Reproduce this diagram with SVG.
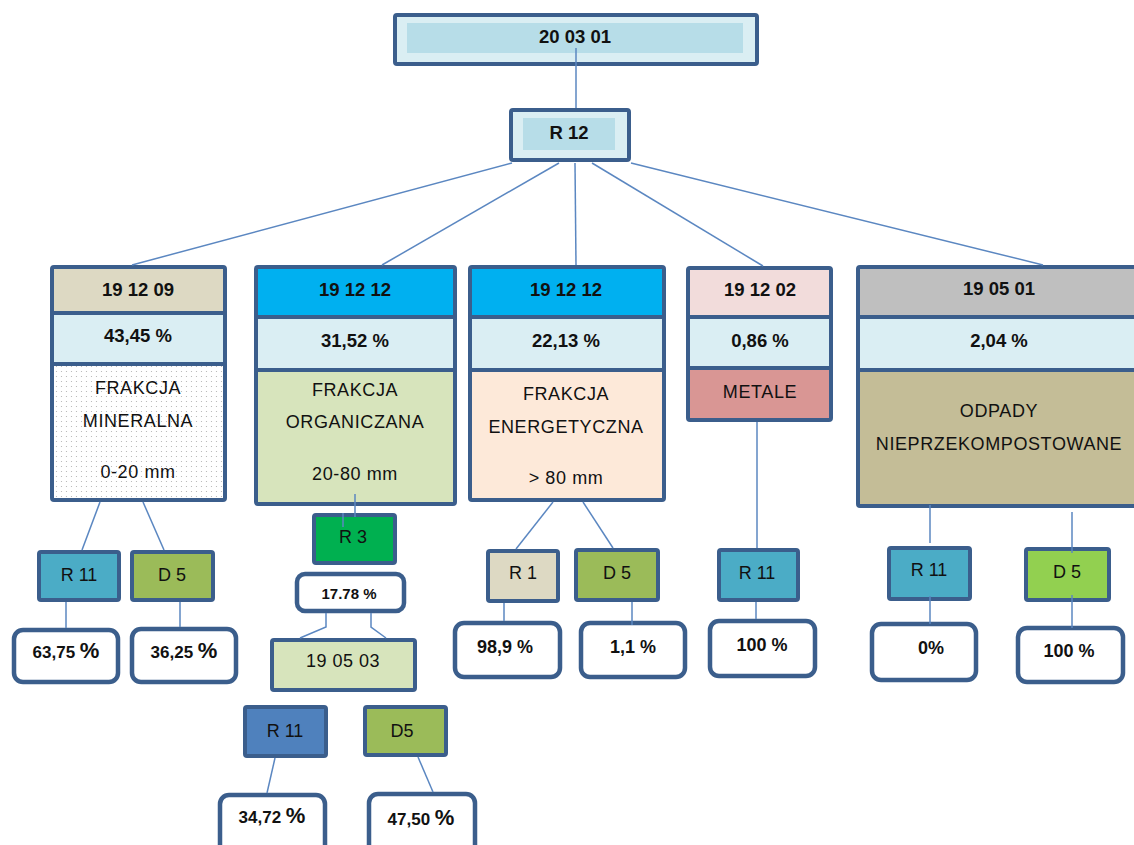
<svg xmlns="http://www.w3.org/2000/svg" width="1134" height="845" viewBox="0 0 1134 845">
<defs>
<pattern id="dots" width="5" height="5" patternUnits="userSpaceOnUse">
<rect width="5" height="5" fill="#ffffff"/>
<circle cx="1.5" cy="1.5" r="0.6" fill="#b0b0b0"/>
</pattern>
<style>
.bx{stroke:#3b5e8c;stroke-width:4;}
.dv{stroke:#3b5e8c;stroke-width:4;}
.pc{fill:#ffffff;stroke:#3b5e8c;stroke-width:4.5;}
.cn{stroke:#5b87c1;stroke-width:1.5;fill:none;}
text{font-family:"Liberation Sans",Arial,sans-serif;fill:#111;text-anchor:middle;}
.b{font-weight:bold;font-size:18.5px;}
.r{font-size:18px;letter-spacing:0.6px;}
.s{font-size:18px;}
.p{font-weight:bold;font-size:17px;}
.pl{font-size:22px;}
.q{font-weight:bold;font-size:18px;}
</style>
</defs>
<rect width="1134" height="845" fill="#ffffff"/>

<g id="n-200301">
<rect class="bx" x="395" y="15" width="362" height="49" rx="2" fill="#daeef3"/>
<rect x="407" y="23" width="336" height="30" fill="#b7dde8"/>
<text class="b" x="575" y="43">20 03 01</text>
</g>
<g id="n-r12">
<rect class="bx" x="511" y="110" width="118" height="50" rx="2" fill="#daeef3"/>
<rect x="523" y="118" width="92" height="32" fill="#b7dde8"/>
<text class="b" x="569" y="139">R 12</text>
</g>

<g id="n-191209">
<rect x="52" y="267" width="173" height="46" fill="#ddd9c3"/>
<rect x="52" y="313" width="173" height="51" fill="#daeef3"/>
<rect x="52" y="364" width="173" height="136" fill="url(#dots)"/>
<line class="dv" x1="52" y1="313" x2="225" y2="313"/>
<line class="dv" x1="52" y1="364" x2="225" y2="364"/>
<rect class="bx" x="52" y="267" width="173" height="233" rx="2" fill="none"/>
<text class="b" x="138" y="296">19 12 09</text>
<text class="b" x="138" y="342">43,45 %</text>
<text class="r" x="138" y="394">FRAKCJA</text>
<text class="r" x="138" y="427">MINERALNA</text>
<text class="r" x="138" y="478">0-20 mm</text>
</g>

<g id="n-191212a">
<rect x="256" y="267" width="199" height="50" fill="#00b0f0"/>
<rect x="256" y="317" width="199" height="53" fill="#daeef3"/>
<rect x="256" y="370" width="199" height="134" fill="#d7e4bc"/>
<line class="dv" x1="256" y1="317" x2="455" y2="317"/>
<line class="dv" x1="256" y1="370" x2="455" y2="370"/>
<rect class="bx" x="256" y="267" width="199" height="237" rx="2" fill="none"/>
<text class="b" x="355" y="296">19 12 12</text>
<text class="b" x="355" y="347">31,52 %</text>
<text class="r" x="355" y="396">FRAKCJA</text>
<text class="r" x="355" y="428">ORGANICZANA</text>
<text class="r" x="355" y="480">20-80 mm</text>
</g>

<g id="n-191212b">
<rect x="470" y="267" width="194" height="50" fill="#00b0f0"/>
<rect x="470" y="317" width="194" height="53" fill="#daeef3"/>
<rect x="470" y="370" width="194" height="130" fill="#fde9d9"/>
<line class="dv" x1="470" y1="317" x2="664" y2="317"/>
<line class="dv" x1="470" y1="370" x2="664" y2="370"/>
<rect class="bx" x="470" y="267" width="194" height="233" rx="2" fill="none"/>
<text class="b" x="566" y="296">19 12 12</text>
<text class="b" x="566" y="347">22,13 %</text>
<text class="r" x="566" y="400">FRAKCJA</text>
<text class="r" x="566" y="433">ENERGETYCZNA</text>
<text class="r" x="566" y="484">&gt; 80 mm</text>
</g>

<g id="n-191202">
<rect x="688" y="268" width="143" height="49" fill="#f2dcdb"/>
<rect x="688" y="317" width="143" height="51" fill="#daeef3"/>
<rect x="688" y="368" width="143" height="52" fill="#d99694"/>
<line class="dv" x1="688" y1="317" x2="831" y2="317"/>
<line class="dv" x1="688" y1="368" x2="831" y2="368"/>
<rect class="bx" x="688" y="268" width="143" height="152" rx="2" fill="none"/>
<text class="b" x="760" y="296">19 12 02</text>
<text class="b" x="760" y="347">0,86 %</text>
<text class="r" x="760" y="398">METALE</text>
</g>

<g id="n-190501">
<rect x="858" y="267" width="284" height="50" fill="#bfbfbf"/>
<rect x="858" y="317" width="284" height="53" fill="#daeef3"/>
<rect x="858" y="370" width="284" height="136" fill="#c4bd97"/>
<line class="dv" x1="858" y1="317" x2="1142" y2="317"/>
<line class="dv" x1="858" y1="370" x2="1142" y2="370"/>
<rect class="bx" x="858" y="267" width="284" height="239" rx="2" fill="none"/>
<text class="b" x="999" y="295">19 05 01</text>
<text class="b" x="999" y="347">2,04 %</text>
<text class="r" x="999" y="417">ODPADY</text>
<text class="r" x="999" y="450">NIEPRZEKOMPOSTOWANE</text>
</g>

<g id="n-r11a"><rect class="bx" x="39" y="552" width="80" height="48" rx="2" fill="#4bacc6"/><text class="s" x="79" y="581">R 11</text></g>
<g id="n-d5a"><rect class="bx" x="132" y="552" width="81" height="48" rx="2" fill="#9bbb59"/><text class="s" x="172" y="581">D 5</text></g>
<g id="n-p6375"><rect class="pc" x="14" y="630" width="104" height="52" rx="9"/><text class="p" x="66" y="658">63,75 <tspan class="pl">%</tspan></text></g>
<g id="n-p3625"><rect class="pc" x="132" y="629" width="104" height="53" rx="9"/><text class="p" x="184" y="658">36,25 <tspan class="pl">%</tspan></text></g>

<g id="n-r3"><rect class="bx" x="314" y="515" width="81" height="48" rx="2" fill="#00b050"/><text class="s" x="353" y="543">R 3</text></g>
<g id="n-p1778"><rect class="pc" x="297" y="574" width="107" height="37" rx="8"/><text class="p" x="349" y="599" style="font-size:15px">17.78 %</text></g>
<g id="n-190503"><rect class="bx" x="272" y="640" width="143" height="50" rx="2" fill="#d7e4bc"/><text class="s" x="343" y="667" style="letter-spacing:0.5px">19 05 03</text></g>
<g id="n-r11b"><rect class="bx" x="245" y="707" width="81" height="49" rx="2" fill="#4f81bd"/><text class="s" x="285" y="737">R 11</text></g>
<g id="n-d5b"><rect class="bx" x="365" y="707" width="81" height="48" rx="2" fill="#9bbb59"/><text class="s" x="402" y="737">D5</text></g>
<g id="n-p3472"><rect class="pc" x="220" y="795" width="105" height="62" rx="9"/><text class="p" x="272" y="823">34,72 <tspan class="pl">%</tspan></text></g>
<g id="n-p4750"><rect class="pc" x="369" y="794" width="106" height="62" rx="9"/><text class="p" x="421" y="825">47,50 <tspan class="pl">%</tspan></text></g>

<g id="n-r1"><rect class="bx" x="488" y="551" width="70" height="50" rx="2" fill="#ddd9c3"/><text class="s" x="523" y="579">R 1</text></g>
<g id="n-d5c"><rect class="bx" x="576" y="550" width="82" height="50" rx="2" fill="#9bbb59"/><text class="s" x="617" y="579">D 5</text></g>
<g id="n-p989"><rect class="pc" x="455" y="623" width="105" height="54" rx="9"/><text class="q" x="505" y="653">98,9 %</text></g>
<g id="n-p11"><rect class="pc" x="581" y="623" width="104" height="54" rx="9"/><text class="q" x="633" y="653">1,1 %</text></g>

<g id="n-r11c"><rect class="bx" x="719" y="550" width="79" height="50" rx="2" fill="#4bacc6"/><text class="s" x="757" y="579">R 11</text></g>
<g id="n-p100a"><rect class="pc" x="710" y="621" width="105" height="55" rx="9"/><text class="q" x="762" y="651">100 %</text></g>

<g id="n-r11d"><rect class="bx" x="889" y="548" width="81" height="51" rx="2" fill="#4bacc6"/><text class="s" x="929" y="576">R 11</text></g>
<g id="n-d5d"><rect class="bx" x="1026" y="549" width="83" height="51" rx="2" fill="#92d050"/><text class="s" x="1067" y="578">D 5</text></g>
<g id="n-p0"><rect class="pc" x="872" y="624" width="104" height="56" rx="9"/><text class="q" x="931" y="654">0%</text></g>
<g id="n-p100b"><rect class="pc" x="1018" y="628" width="105" height="54" rx="9"/><text class="q" x="1069" y="657">100 %</text></g>

<g id="connectors">
<line class="cn" x1="576" y1="48" x2="576" y2="108"/>
<line class="cn" x1="512" y1="163" x2="132" y2="265"/>
<line class="cn" x1="559" y1="163" x2="382" y2="265"/>
<line class="cn" x1="575" y1="163" x2="576" y2="265"/>
<line class="cn" x1="592" y1="163" x2="763" y2="266"/>
<line class="cn" x1="631" y1="163" x2="1043" y2="265"/>
<line class="cn" x1="100" y1="502" x2="82" y2="550"/>
<line class="cn" x1="143" y1="502" x2="164" y2="550"/>
<line class="cn" x1="66" y1="602" x2="66" y2="628"/>
<line class="cn" x1="180" y1="602" x2="180" y2="627"/>
<line class="cn" x1="355" y1="494" x2="355" y2="517"/>
<line class="cn" x1="343" y1="513" x2="343" y2="527"/>
<polyline class="cn" points="326,613 326,627 300,638"/>
<polyline class="cn" points="371,613 371,627 386,638"/>
<line class="cn" x1="275" y1="758" x2="267" y2="793"/>
<line class="cn" x1="418" y1="757" x2="433" y2="792"/>
<line class="cn" x1="553" y1="502" x2="516" y2="549"/>
<line class="cn" x1="583" y1="502" x2="613" y2="548"/>
<line class="cn" x1="504" y1="603" x2="504" y2="621"/>
<line class="cn" x1="632" y1="602" x2="632" y2="625"/>
<line class="cn" x1="757" y1="422" x2="757" y2="548"/>
<line class="cn" x1="756" y1="602" x2="756" y2="619"/>
<line class="cn" x1="930" y1="505" x2="930" y2="543"/>
<line class="cn" x1="1072" y1="512" x2="1072" y2="553"/>
<line class="cn" x1="930" y1="596" x2="930" y2="624"/>
<line class="cn" x1="1072" y1="595" x2="1072" y2="628"/>
</g>
</svg>
